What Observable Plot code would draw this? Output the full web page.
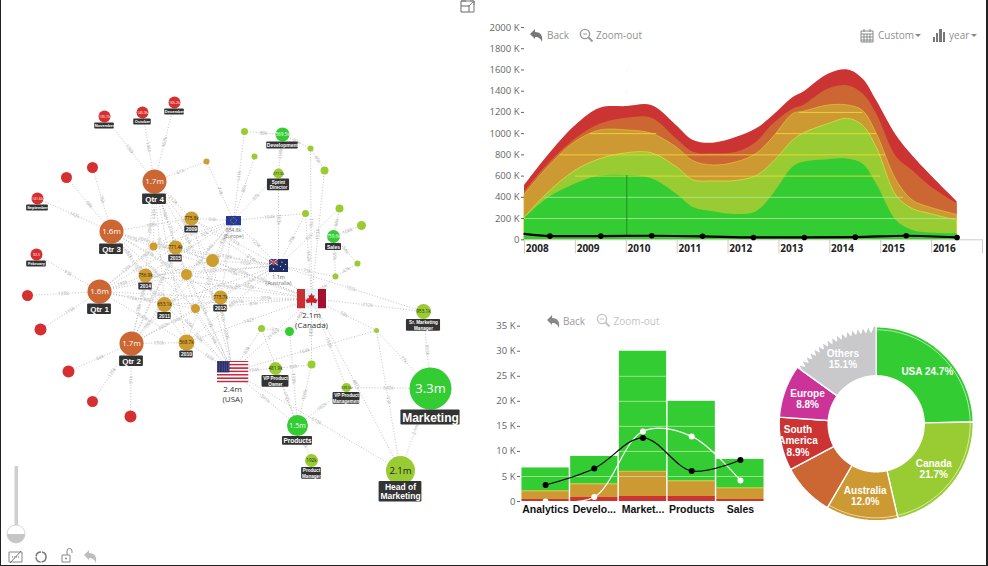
<!DOCTYPE html>
<html><head><meta charset="utf-8">
<style>
html,body{margin:0;padding:0;background:#fff;}
#root{position:relative;width:988px;height:566px;overflow:hidden;background:#fff;font-family:"Open Sans",sans-serif;}
#edge{position:absolute;left:0;top:0;width:988px;height:566px;box-sizing:border-box;border-left:1px solid #222;border-right:2px solid #222;border-bottom:1px solid #222;pointer-events:none;}
.tb{position:absolute;font-size:10px;color:#8f8f8f;white-space:nowrap;line-height:12px;}
.ic{position:absolute;overflow:visible;}
</style>
<script src="https://cdn.jsdelivr.net/npm/d3@7"></script>
<script src="https://cdn.jsdelivr.net/npm/@observablehq/plot@0.6"></script>
</head><body><div id="root"></div><div id="edge"></div>
<script>
// ---------- colours ----------
const GREEN="#33cc33", LIME="#99cc33", GOLD="#cc9933", BROWN="#cc6633", RED="#cc3333", MAGENTA="#cc3399", GREY="#c9c9cc";

// ---------- stream chart values (K) ----------
const streamX =  [2008,2008.44,2009,2009.49,2010.01,2010.5,2010.99,2011.32,2011.71,2012.17,2012.56,2012.89,2013.28,2013.48,2013.97,2014.36,2014.65,2014.92,2015.31,2015.63,2015.96,2016.5];
const greenTop = [200,385,525,600,605,575,430,305,265,238,265,430,685,730,755,760,715,525,180,88,63,55];
const limeTop =  [205,430,650,760,815,815,685,560,550,555,600,730,935,1000,1090,1140,1075,870,415,290,245,180];
const goldTop =  [420,670,920,1030,1030,1000,870,740,700,730,810,965,1185,1205,1265,1265,1215,1000,560,370,305,235];
const brownTop = [450,700,950,1090,1145,1145,950,825,810,825,920,1090,1230,1265,1420,1450,1375,1185,780,650,510,340];
const redTop =   [510,780,1075,1240,1255,1265,1075,935,910,965,1045,1170,1340,1390,1560,1600,1515,1310,980,790,620,360];
const trendX =   [2008,2008.5,2009.5,2010.5,2011.5,2012.5,2013.5,2014.5,2015.5,2016.5];
const trendY =   [55,35,35,38,33,22,22,25,38,22];
const years =    [2008,2009,2010,2011,2012,2013,2014,2015,2016];
const streamTicks = [0,200,400,600,800,1000,1200,1400,1600,1800,2000];
const streamGridY =  [200,400,600,800,1000,1000,1200];
const streamGridX1 = [2008,2008.4,2009,2008.7,2009.29,2012.95,2013.4];
const streamGridX2 = [2016.5,2015.45,2015,2015.1,2010.6,2014.92,2014.65];

// ---------- bar chart values (K) ----------
const barCats = ["Analytics","Develo...","Market...","Products","Sales"];
const barRed =  [0.4,0.8,1.0,1.0,0.4];
const barGold = [1.7,2.7,5.0,3.1,2.3];
const barGreen =[4.6,5.5,24.0,15.9,5.7];
const barBlack =[3.3,6.6,12.7,6.1,8.3];
const barWhite =[0,0.9,14.0,13.0,4.2];
const barTicks = [0,5,10,15,20,25,30,35];

// ---------- donut values (%) ----------
const donutNames = ["USA","Canada","Australia","","South\nAmerica","Europe","Others"];
const donutPct =   [24.7,21.7,12.0,8.8,8.9,8.8,15.1];
const donutFill =  [GREEN,LIME,GOLD,BROWN,RED,MAGENTA,GREY];

// ---------- network values ----------
const monthNodes = [
 ["dec",174,102,6,"165.2k","December"],["oct",142,112,6,"145.9k","October"],["nov",104,116,6,"135.7k","November"],
 ["m1",92,167,5.5,"",""],["m2",66,177,5.5,"",""],["sep",37,198,6,"141.6k","September"],["feb",36,254,6,"92.5","February"],
 ["m3",27,295,5.5,"",""],["m4",40,329,6,"",""],["m5",68,371,6,"",""],["m6",92,401,5.5,"",""],["m7",130,416,6,"",""]];
const quarterNodes = [["q4",154,181,12,"1.7m","Qtr 4"],["q3",111,231,12,"1.6m","Qtr 3"],["q1",99,291,12,"1.6m","Qtr 1"],["q2",131,343,12,"1.7m","Qtr 2"]];
const yearNodes = [
 ["y0",206,161,3,"",""],["y1",191,218,7,"775.8k","2009"],["y2",175,247,7,"771.4k","2015"],["y3",153,246,4,"",""],["y4",212,260,6.5,"",""],
 ["y5",186,274,5.5,"",""],["y6",145,275,7,"756.9k","2014"],["y7",164,304,7.5,"653.1k","2011"],["y8",195,308,4.5,"",""],["y9",220,297,7,"775.7k","2012"],["y10",186,342,8,"568.7k","2010"]];
const limeNodes = [
 ["a",244,131,3.5,"",""],["b",310,148,3,"",""],["c",324,170,4,"",""],["d",254,156,3,"",""],["spr",278,173,5,"277.3k","Sprint\nDirector"],
 ["e",305,213,3.5,"",""],["f",339,208,4,"",""],["g",361,225,4.5,"",""],["h",357,263,3,"",""],["i",335,276,3,"",""],["j",261,328,3.5,"",""],
 ["l",376,330,2.5,"",""],["srm",423,311,7.5,"953.1k","Sr. Marketing\nManager"],["vpo",275,368,6.5,"481.9k","VP Product\nOwner"],["m",311,364,4,"",""],
 ["vpm",346,387,4.5,"339.5k","VP Product\nManagement"],["pm",311,460,6.5,"192k","Product\nManager"],["head",400,470,14.5,"2.1m","Head of\nMarketing"]];
const greenNodes = [["dev",282,134,7,"569.5k","Development"],["sal",333,236,6.5,"759.6k","Sales"],["k",289,331,4.5,"",""],["prod",297,425,10.5,"1.5m","Products"],["mkt",430,388,21,"3.3m","Marketing"]];
const countries = [["eu",233,220,15,10,"854.8k\n(Europe)",5],["aus",278,265,19,13,"1.1m\n(Australia)",5.5],["can",311,298,29,20,"2.1m\n(Canada)",8],["usa",232,371,32,22,"2.4m\n(USA)",8]];
const monthLinks = [["dec","q4","163k"],["oct","q4","146k"],["nov","q4","136k"],["m1","q3","76k"],["m2","q3","98k"],["sep","q3","142k"],["feb","q1","93k"],["m3","q1","128k"],["m4","q1","116k"],["m5","q2","84k"],["m6","q2","125k"],["m7","q2","91k"]];
const yearIds = ["y1","y2","y3","y4","y5","y6","y7","y8","y9","y10"];
const quarterFlow = {
 q4:[212,196,143,188,121,204,161,97,183,151],
 q3:[188,201,117,176,143,182,154,110,207,138],
 q1:[196,171,129,154,132,193,176,89,192,130],
 q2:[179,203,138,165,118,178,162,102,194,150]};
const countryFlow = {
 eu:[94,72,51,83,44,69,58,33,77,61],
 aus:[131,118,72,105,66,122,97,48,126,88],
 can:[214,207,119,176,102,197,161,81,203,142],
 usa:[244,231,138,192,117,226,184,94,229,165]};
const extraLinks = [["y0","q4","61k"],["y0","eu","74k"],["a","dev","88k"],["dev","b","92k"],["b","c","45k"],["dev","spr","118k"],["a","eu","141k"],["d","eu","86k"],["spr","eu","97k"],
 ["spr","aus","163k"],["e","eu","104k"],["e","aus","79k"],["e","can","112k"],["c","can","153k"],["b","can","176k"],["f","sal","66k"],["f","aus","82k"],["g","sal","108k"],["h","sal","54k"],
 ["h","i","47k"],["sal","i","69k"],["i","can","91k"],["i","aus","73k"],["eu","aus","125k"],["srm","can","212k"],["srm","aus","135k"],["srm","mkt","953k"],["l","can","58k"],["l","usa","164k"],
 ["l","mkt","77k"],["j","k","57k"],["j","usa","83k"],["j","prod","42k"],["k","can","96k"],["k","prod","138k"],["vpo","usa","194k"],["vpo","m","88k"],["vpo","prod","172k"],["m","can","149k"],
 ["m","prod","126k"],["prod","usa","341k"],["prod","vpm","182k"],["prod","pm","192k"],["vpm","mkt","340k"],["vpm","can","158k"],["mkt","head","2.1m"],["head","usa","610k"],["head","can","487k"],["head","l","93k"],["can","usa","211k"]];

// ---------- helpers ----------
const root = document.getElementById("root");
const place = (el,left,top)=>{el.style.position="absolute";el.style.left=left+"px";el.style.top=top+"px";el.style.background="transparent";el.style.overflow="visible";root.appendChild(el);};
const axisFont = {fontSize:9.5,color:"#666",tickSize:3,tickPadding:2,label:null};
const FONT = '"Open Sans",sans-serif';
const TAGFONT = '"Liberation Sans",sans-serif';

// ---------- STREAM ----------
const streamRows = streamX.map((x,i)=>({x,green:greenTop[i],lime:limeTop[i],gold:goldTop[i],brown:brownTop[i],red:redTop[i]}));
const trendRows = trendX.map((x,i)=>({x,y:trendY[i]}));
const layer=(key,fill,stroke)=>Plot.areaY(streamRows,{x:"x",y1:0,y2:key,fill,stroke:stroke||"none",strokeWidth:0.7,curve:"catmull-rom"});
place(Plot.plot({
 width:506,height:250,marginLeft:44,marginRight:4,marginTop:17,marginBottom:20.7,
 style:{fontFamily:FONT},
 x:{domain:[2008,2017]},y:{domain:[0,2000]},
 marks:[
  layer("red",RED),layer("brown",BROWN),layer("gold",GOLD,"#e6c23a"),layer("lime",LIME,"#e4e04a"),layer("green",GREEN),
  Plot.ruleY(streamGridY,{y:d=>d,x1:(d,i)=>streamGridX1[i],x2:(d,i)=>streamGridX2[i],stroke:(d)=>d<=400?"#a9ea90":"#f3d83c",strokeWidth:1,strokeOpacity:0.85}),
  Plot.ruleX([2010.01],{y1:25,y2:605,stroke:"#1b7d1b",strokeWidth:0.8}),
  Plot.dot([1600,1400],{x:()=>2010.01,y:d=>d,r:0.4,fill:"#bbb"}),
  Plot.ruleY([0],{stroke:"#ccc"}),
  Plot.line(trendRows,{x:"x",y:"y",stroke:"#000",strokeWidth:2.2,curve:"monotone-x"}),
  Plot.dot(trendRows.slice(1),{x:"x",y:"y",r:2.8,fill:"#000"}),
  Plot.axisY({...axisFont,ticks:streamTicks,tickFormat:d=>d===0?"0":d+" K"}),
  Plot.axisX({ticks:d3.range(2008,2018),tickSize:14,tickFormat:()=>"",stroke:"#ccc",label:null}),
  Plot.text(years,{x:d=>d+0.25,frameAnchor:"bottom",dy:9,lineAnchor:"middle",text:d=>String(d),fontSize:10,fontWeight:"bold",fill:"#222"})
 ]
}),480,10);

// ---------- BARS ----------
const barRows = barCats.flatMap((c,i)=>[{c,s:RED,v:barRed[i]},{c,s:GOLD,v:barGold[i]},{c,s:GREEN,v:barGreen[i]}]);
const barTotals = barCats.map((c,i)=>barRed[i]+barGold[i]+barGreen[i]);
const barGrid = barCats.flatMap((c,i)=>[5,10,15,20,25].filter(v=>v<barTotals[i]-0.3).map(v=>({c,v})));
const barSeams = barCats.map((c,i)=>({c,v:barRed[i]+barGold[i]}));
const lineRows = k=>barCats.map((c,i)=>({c,y:k[i]}));
place(Plot.plot({
 width:290,height:205,marginLeft:40,marginRight:5,marginTop:10.7,marginBottom:19,
 style:{fontFamily:FONT},
 x:{domain:barCats,padding:0.03,round:false},y:{domain:[0,35]},
 marks:[
  Plot.barY(barRows,{x:"c",y:"v",fill:"s",order:null}),
  Plot.tickY(barGrid,{x:"c",y:"v",stroke:"#c9efa9",strokeOpacity:0.7,strokeWidth:1}),
  Plot.tickY(barSeams,{x:"c",y:"v",stroke:"#e6d23a",strokeOpacity:0.7,strokeWidth:1}),
  Plot.line(lineRows(barWhite),{x:"c",y:"y",stroke:"#fff",strokeWidth:1.2,curve:"catmull-rom"}),
  Plot.line(lineRows(barBlack),{x:"c",y:"y",stroke:"#000",strokeWidth:1.2,curve:"catmull-rom"}),
  Plot.dot(lineRows(barWhite),{x:"c",y:"y",r:3,fill:"#fff"}),
  Plot.dot(lineRows(barBlack),{x:"c",y:"y",r:3,fill:"#000"}),
  Plot.axisY({...axisFont,ticks:barTicks,tickFormat:d=>d===0?"0":d+" K"}),
  Plot.axisX({tickSize:0,tickPadding:4,fontSize:10.5,fontFamily:TAGFONT,fontWeight:"bold",color:"#111",label:null})
 ]
}),480,315);

// ---------- DONUT ----------
const OUT=97, INN=48, RING=94;
let acc=0;
const donutSlices = donutPct.map((p,i)=>{const a0=acc*3.6,a1=(acc+p)*3.6;acc+=p;return {i,a0,a1,mid:(a0+a1)/2,name:donutNames[i],p,fill:donutFill[i]};});
const pol=(deg,r)=>({x:r*Math.sin(deg*Math.PI/180),y:-r*Math.cos(deg*Math.PI/180)});
const donutPts = donutSlices.flatMap(s=>{
 const pts=[],n=Math.ceil(s.a1-s.a0);
 const toothed=s.name==="Others";
 if(toothed){const T=17;for(let t=0;t<T;t++){pts.push(pol(s.a0+(s.a1-s.a0)*t/T,OUT-5));pts.push(pol(s.a0+(s.a1-s.a0)*(t+.5)/T,OUT+1));}pts.push(pol(s.a1,OUT+1));}
 else for(let k=0;k<=n;k++)pts.push(pol(s.a0+(s.a1-s.a0)*k/n,OUT));
 for(let k=n;k>=0;k--)pts.push(pol(s.a0+(s.a1-s.a0)*k/n,INN));
 pts.push(pts[0]);
 return pts.map(q=>({...q,i:s.i,fill:s.fill}));
});
const ringPts = donutSlices.slice(0,3).flatMap(s=>{const n=Math.ceil(s.a1-s.a0);return d3.range(n+1).map(k=>({...pol(s.a0+(s.a1-s.a0)*k/n,RING),i:s.i}));});
const donutLabels = donutSlices.filter(s=>s.name).map(s=>{const c=pol(s.mid,s.name.startsWith("South")?80:73);return {...c,t:s.name==="USA"?`USA ${s.p.toFixed(1)}%`:`${s.name}\n${s.p.toFixed(1)}%`};});
place(Plot.plot({
 width:215,height:215,margin:0,
 style:{fontFamily:FONT},
 x:{domain:[-105.7,109.3],range:[0,215],axis:null},
 y:{domain:[-108.3,106.7],range:[0,215],axis:null},
 marks:[
  Plot.line(donutPts,{x:"x",y:"y",z:"i",fill:"fill",stroke:"#fff",strokeWidth:1.4,curve:"linear"}),
  Plot.line(ringPts,{x:"x",y:"y",z:"i",stroke:"#fff",strokeOpacity:0.75,strokeWidth:0.8}),
  Plot.text(donutLabels,{x:"x",y:"y",text:"t",fill:"#fff",fontFamily:TAGFONT,fontWeight:"bold",fontSize:10,lineHeight:1.15,lineAnchor:"middle"})
 ]
}),770,315);

// ---------- NETWORK ----------
const withKind=(rows,kind)=>rows.map(r=>({id:r[0],x:r[1],y:r[2],r:r[3],val:r[4],name:r[5],kind}));
const nodes=[...withKind(monthNodes,"month"),...withKind(quarterNodes,"quarter"),...withKind(yearNodes,"year"),...withKind(limeNodes,"lime"),...withKind(greenNodes,"green")];
const kindFill={month:"#d5302f",quarter:"#cc6633",year:"#cf9c2e",lime:"#99cc33",green:"#33cc33"};
const countryPos=Object.fromEntries(countries.map(c=>[c[0],{x:c[1],y:c[2]}]));
const pos=Object.fromEntries(nodes.map(n=>[n.id,n]));Object.assign(pos,countryPos);
const links=[...monthLinks];
for(const q in quarterFlow) quarterFlow[q].forEach((v,j)=>links.push([q,yearIds[j],v+"k"]));
for(const c in countryFlow) countryFlow[c].forEach((v,j)=>links.push([yearIds[j],c,v+"k"]));
links.push(...extraLinks);
const linkRows=links.map(([a,b,t])=>{const A=pos[a],B=pos[b];let ang=Math.atan2(B.y-A.y,B.x-A.x)*180/Math.PI;if(ang>90)ang-=180;if(ang<-90)ang+=180;
  return {x1:A.x,y1:A.y,x2:B.x,y2:B.y,mx:(A.x+B.x)/2,my:(A.y+B.y)/2,t,ang};});

const tagFont=n=>n.kind==="month"?4:n.kind==="quarter"?8:n.kind==="year"?5:n.id==="mkt"?12:n.id==="head"?8.5:n.id==="prod"?6.5:n.id==="dev"?5:n.id==="sal"?5:4.6;
const tags=nodes.filter(n=>n.name).map(n=>{const f=tagFont(n),L=n.name.split("\n"),w=d3.max(L,s=>s.length)*f*0.52+3,h=L.length*f*1.12+1.5,top=n.y+n.r+(n.id==="head"?-3.5:0.5);
  return {x1:n.x-w/2,x2:n.x+w/2,y1:top,y2:top+h,cx:n.x,cy:top+h/2,t:n.name,f};});
const valSize=n=>n.id==="mkt"?13:n.id==="head"?9.5:n.kind==="quarter"?8:n.id==="prod"?7:n.kind==="month"?3.6:n.r<6?3.6:4.6;
const valFill=n=>(n.kind==="year"||n.kind==="lime")?"#222":"#fff";
const shown=nodes.filter(n=>n.val);

const svgUri=s=>"data:image/svg+xml,"+encodeURIComponent(s);
const usaStripes=d3.range(13).map(i=>`<rect y="${i*10}" width="320" height="10" fill="${i%2?'#fff':'#c8283c'}"/>`).join("");
const usaStars=d3.range(5).flatMap(r=>d3.range(6).map(c=>`<circle cx="${12+c*22}" cy="${8+r*12}" r="2.6" fill="#fff"/>`)).join("");
const euStars=d3.range(12).map(i=>`<circle cx="${75+28*Math.cos(i*Math.PI/6)}" cy="${50+28*Math.sin(i*Math.PI/6)}" r="4" fill="#f2c81e"/>`).join("");
const flags={
 usa:`<svg xmlns="http://www.w3.org/2000/svg" viewBox="0 0 320 130" preserveAspectRatio="none">${usaStripes}<rect width="130" height="70" fill="#2a2f6e"/>${usaStars}</svg>`,
 can:`<svg xmlns="http://www.w3.org/2000/svg" viewBox="0 0 300 200" preserveAspectRatio="none"><rect width="300" height="200" fill="#fff"/><rect width="85" height="200" fill="#c92f33"/><rect x="215" width="85" height="200" fill="#a50f30"/><rect x="85" width="130" height="200" fill="#dff4f8"/><path d="M150 45l14 28 18-8-8 38 16-10 6 16 20 2-14 24-2 12-44-6v30h-12v-30l-44 6-2-12-14-24 20-2 6-16 16 10-8-38 18 8z" fill="#cf2027"/></svg>`,
 eu:`<svg xmlns="http://www.w3.org/2000/svg" viewBox="0 0 150 100" preserveAspectRatio="none"><rect width="150" height="100" fill="#23389a"/>${euStars}</svg>`,
 aus:`<svg xmlns="http://www.w3.org/2000/svg" viewBox="0 0 190 130" preserveAspectRatio="none"><rect width="190" height="130" fill="#1f2b63"/><rect width="90" height="62" fill="#39407a"/><path d="M0 0L90 62M90 0L0 62" stroke="#e8d7dc" stroke-width="10"/><path d="M45 0V62M0 31H90" stroke="#d14a5a" stroke-width="12"/><circle cx="45" cy="100" r="8" fill="#fff"/><circle cx="130" cy="30" r="6" fill="#fff"/><circle cx="165" cy="55" r="6" fill="#fff"/><circle cx="115" cy="75" r="6" fill="#fff"/><circle cx="145" cy="105" r="6" fill="#fff"/></svg>`
};
const countryRows=countries.map(c=>({id:c[0],x:c[1],y:c[2],w:c[3],h:c[4],t:c[5],f:c[6],src:svgUri(flags[c[0]])}));

place(Plot.plot({
 width:470,height:566,margin:0,
 style:{fontFamily:FONT},
 x:{domain:[0,470],range:[0,470],axis:null},
 y:{domain:[0,566],range:[0,566],axis:null},
 r:{type:"identity"},
 marks:[
  Plot.link(linkRows,{x1:"x1",y1:"y1",x2:"x2",y2:"y2",stroke:"#a6a6a6",strokeWidth:0.7,strokeDasharray:"1 1.8"}),
  Plot.text(linkRows,{x:"mx",y:"my",text:"t",rotate:"ang",fontSize:4.8,fill:"#a8a8a8",stroke:"#fff",strokeWidth:0.6,lineAnchor:"middle"}),
  Plot.dot(nodes,{x:"x",y:"y",r:"r",fill:d=>kindFill[d.kind]}),
  Plot.text(shown,{x:"x",y:"y",text:"val",fontSize:valSize,fill:valFill,lineAnchor:"middle"}),
  Plot.rect(tags,{x1:"x1",x2:"x2",y1:"y1",y2:"y2",fill:"#333",rx:1}),
  Plot.text(tags,{x:"cx",y:"cy",text:"t",fontSize:"f",fontFamily:TAGFONT,fontWeight:"bold",fill:"#fff",lineAnchor:"middle",lineHeight:1.1}),
  Plot.image(countryRows,{x:"x",y:"y",width:"w",height:"h",src:"src",preserveAspectRatio:"none"}),
  Plot.text(countryRows,{x:"x",y:d=>d.y+d.h/2+d.f*0.4,text:"t",fontSize:"f",fill:d=>d.f>6?"#333":"#777",lineAnchor:"top",lineHeight:1.18})
 ]
}),0,0);

// ---------- toolbars and controls ----------
const tb=(t,left,top,c)=>{const s=document.createElement("span");s.className="tb";s.textContent=t;s.style.left=left+"px";s.style.top=top+"px";if(c)s.style.color=c;root.appendChild(s);};
const ic=(inner,left,top,w,h)=>{const d=document.createElement("div");d.innerHTML=`<svg class="ic" style="left:${left}px;top:${top}px" width="${w}" height="${h}" viewBox="0 0 ${w} ${h}">${inner}</svg>`;root.appendChild(d);};
const back=(c)=>`<path d="M1 6l5-5v3c6 0 8 4 7 10-1-3-3-5-7-5v2z" fill="${c}"/>`;
const lens=(c)=>`<circle cx="6" cy="6" r="4.6" fill="none" stroke="${c}" stroke-width="1.4"/><path d="M9.5 9.5l4 4" stroke="${c}" stroke-width="2"/><path d="M4 6h4" stroke="${c}"/>`;
ic(back("#777"),529,28,14,15);tb("Back",547,29);
ic(lens("#999"),579,28,15,15);tb("Zoom-out",596,29);
ic(`<path d="M1 3h12v11H1z" fill="none" stroke="#888"/><path d="M1 6h12M4 1v3M10 1v3M4 6v8M7 6v8M10 6v8M1 9h12M1 12h12" stroke="#888" fill="none"/>`,860,28,14,15);
tb("Custom",878,29);ic(`<path d="M0 0h6l-3 3z" fill="#888"/>`,915,34,6,3);
ic(`<path d="M1 9h2v5H1zM4 5h2v9H4zM7 1h3v13H7zM11 4h2v10h-2z" fill="#777"/>`,932,28,14,15);
tb("year",949,29);ic(`<path d="M0 0h6l-3 3z" fill="#888"/>`,971,34,6,3);
ic(back("#888"),546,314,14,15);tb("Back",563,314.5,"#999");
ic(lens("#c4c4c4"),596,313,15,15);tb("Zoom-out",613.5,314.5,"#c4c4c4");
// expand icon
ic(`<path d="M1 6h8v6H1zM9 6v-1M1 6V1h5" fill="none" stroke="#666"/><path d="M8 7l5-5M10 1h4v4" fill="none" stroke="#888"/><path d="M1 1h13v11H9" fill="none" stroke="#777"/>`,460,0,15,13);
// slider
const sl=document.createElement("div");
sl.innerHTML=`<svg class="ic" style="left:0;top:460px" width="40" height="100" viewBox="0 0 40 100">
<rect x="14.5" y="6" width="3.5" height="60" fill="#cfcfcf"/>
<circle cx="16" cy="74" r="9" fill="#fff" stroke="#d8d8d8"/>
<path d="M7 74a9 9 0 0 0 18 0z" fill="#c6c6c6"/></svg>`;root.appendChild(sl);
ic(`<path d="M2 3h13v10H2z" fill="none" stroke="#888"/><path d="M3 14L14 2" stroke="#777"/><path d="M5 8h7" stroke="#666" stroke-dasharray="1 1"/>`,7,549,17,16);
ic(`<circle cx="7" cy="7" r="5" fill="none" stroke="#777" stroke-width="1.5" stroke-dasharray="7 1"/>`,33.5,550,14,14);
ic(`<path d="M1 7h8v7H1z" fill="none" stroke="#888"/><path d="M6 7V3a2.5 2.5 0 0 1 5 0v2" fill="none" stroke="#888"/><circle cx="5" cy="10.5" r="1" fill="#888"/>`,61,548,14,16);
ic(back("#bdbdbd"),83,549,14,15);
</script></body></html>
